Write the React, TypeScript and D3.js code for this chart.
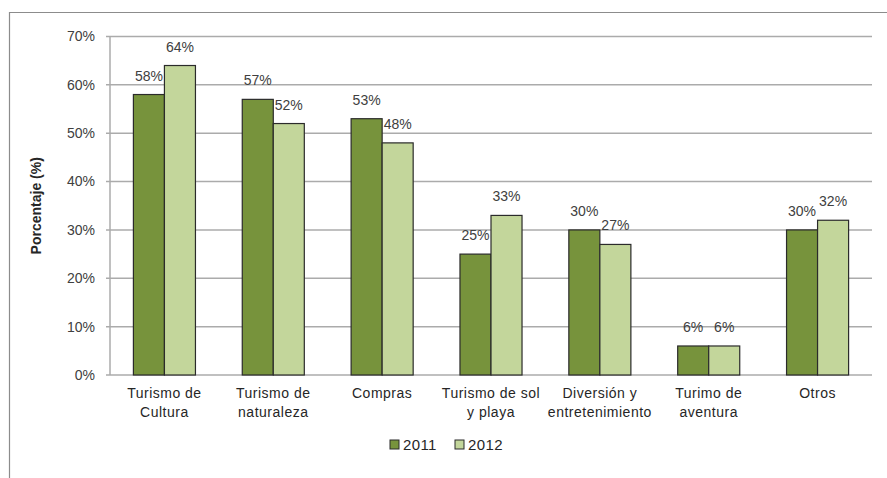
import * as d3 from 'd3';

const categories = [
  ['Turismo de', 'Cultura'],
  ['Turismo de', 'naturaleza'],
  ['Compras'],
  ['Turismo de sol', 'y playa'],
  ['Diversión y', 'entretenimiento'],
  ['Turimo de', 'aventura'],
  ['Otros'],
];
const series2011 = [58, 57, 53, 25, 30, 6, 30];
const series2012 = [64, 52, 48, 33, 27, 6, 32];
const yTicks = [0, 10, 20, 30, 40, 50, 60, 70];
const seriesNames = ['2011', '2012'];

const colors = ['#77933C', '#C3D69B'];
const font = 'Liberation Sans, Arial, sans-serif';
const textColor = '#404040';

export default function App() {
  const width = 887;
  const height = 478;
  const margin = { top: 36.5, right: 15, bottom: 103, left: 110 };

  const x = d3.scaleBand<number>()
    .domain(d3.range(categories.length))
    .range([margin.left, width - margin.right])
    .paddingInner(0.43)
    .paddingOuter(0.215);
  const y = d3.scaleLinear().domain([0, 70]).range([height - margin.bottom, margin.top]);
  const bw = x.bandwidth() / 2;

  const data = [series2011, series2012];

  return (
    <svg width={width} height={height} style={{ position: 'absolute', left: 0, top: 0 }}>
      <rect x={0} y={0} width={width} height={height} fill="#fff" />
      {/* outer frame */}
      <line x1={9.5} x2={9.5} y1={12} y2={height} stroke="#8c8c8c" strokeWidth={1.2} />
      <line x1={9} x2={width} y1={12.5} y2={12.5} stroke="#8c8c8c" strokeWidth={1.2} />

      {/* grid + y ticks */}
      {yTicks.map(t => (
        <g key={t}>
          <line x1={margin.left - 4} x2={width - margin.right} y1={y(t)} y2={y(t)} stroke="#ababab" strokeWidth={1.5} />
          <text x={95} y={y(t)} dy="0.35em" textAnchor="end" fontFamily={font} fontSize={14} fill={textColor}>
            {t}%
          </text>
        </g>
      ))}
      <line x1={margin.left} x2={margin.left} y1={y(70)} y2={y(0)} stroke="#ababab" strokeWidth={1.5} />

      {/* bars */}
      {data.map((vals, si) =>
        vals.map((v, i) => (
          <rect
            key={`${si}-${i}`}
            x={(x(i) as number) + si * bw}
            y={y(v)}
            width={bw}
            height={y(0) - y(v)}
            fill={colors[si]}
            stroke="#2b2b2b"
            strokeWidth={1.2}
          />
        ))
      )}

      {/* value labels */}
      {data.map((vals, si) =>
        vals.map((v, i) => (
          <text
            key={`l-${si}-${i}`}
            x={(x(i) as number) + si * bw + bw / 2}
            y={y(v) - 14}
            textAnchor="middle"
            fontFamily={font}
            fontSize={14}
            fill={textColor}
          >
            {v}%
          </text>
        ))
      )}

      {/* category labels */}
      {categories.map((lines, i) => (
        <text
          key={`c-${i}`}
          x={(x(i) as number) + x.bandwidth() / 2}
          y={398}
          textAnchor="middle"
          fontFamily={font}
          fontSize={14}
          letterSpacing={0.5}
          fill="#262626"
        >
          {lines.map((ln, k) => (
            <tspan key={k} x={(x(i) as number) + x.bandwidth() / 2} dy={k === 0 ? 0 : 19}>
              {ln}
            </tspan>
          ))}
        </text>
      ))}

      {/* y axis title */}
      <text
        transform={`translate(41,${y(35)}) rotate(-90)`}
        textAnchor="middle"
        fontFamily={font}
        fontSize={14}
        fontWeight="bold"
        fill="#262626"
      >
        Porcentaje (%)
      </text>

      {/* legend */}
      {seriesNames.map((name, si) => (
        <g key={name} transform={`translate(${390 + si * 65},440)`}>
          <rect x={0} y={0} width={9} height={9} fill={colors[si]} stroke="#2b2b2b" strokeWidth={1} />
          <text x={13} y={4.5} dy="0.35em" fontFamily={font} fontSize={15} letterSpacing={0.4} fill="#262626">
            {name}
          </text>
        </g>
      ))}
    </svg>
  );
}
